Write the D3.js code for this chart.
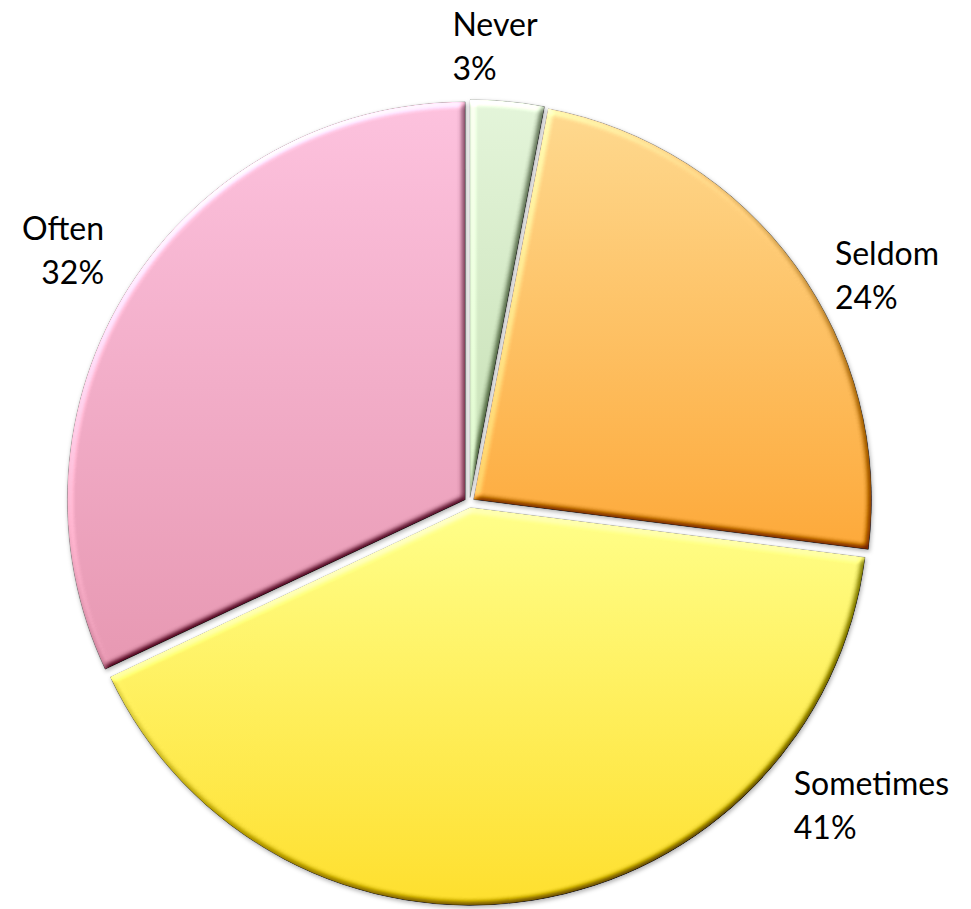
<!DOCTYPE html>
<html>
<head>
<meta charset="utf-8">
<script src="https://cdn.jsdelivr.net/npm/d3@7"></script>
<style>
  html, body { margin: 0; padding: 0; background: #fff; }
  svg { display: block; }
  text { font-family: Lato, "Open Sans", sans-serif; font-size: 32px; fill: #000; }
</style>
</head>
<body>
<svg id="chart" width="971" height="909"></svg>
<script>
const categories = ["Never", "Seldom", "Sometimes", "Often"];
const values = [3, 24, 41, 32];
const percentLabels = ["3%", "24%", "41%", "32%"];
const topColors = ["#e4f5da", "#fed98f", "#ffff8a", "#fdc2de"];
const bottomColors = ["#c6dfb4", "#fda93a", "#fedf2e", "#e798b2"];

const W = 971, H = 909;
const cx = 469.5, cy = 502.5, R = 398, explode = 5;
// label placement: angle (deg, clockwise from top), distance from centre, alignment
const labelLayout = [
  { a: 3.19, d: 458.2, align: "start" },
  { a: 61.4, d: 475.5, align: "start" },
  { a: 126.96, d: 503, align: "start" },
  { a: 301.85, d: 478.5, align: "end" }
];

const svg = d3.select("#chart");
const defs = svg.append("defs");

categories.forEach((c, i) => {
  const g = defs.append("linearGradient")
    .attr("id", "grad" + i).attr("x1", 0).attr("y1", 0).attr("x2", 0).attr("y2", 1);
  g.append("stop").attr("offset", "0%").attr("stop-color", topColors[i]);
  g.append("stop").attr("offset", "100%").attr("stop-color", bottomColors[i]);
});

const f = defs.append("filter").attr("id", "bevel")
  .attr("x", "-10%").attr("y", "-10%").attr("width", "120%").attr("height", "120%")
  .attr("color-interpolation-filters", "sRGB");
f.append("feGaussianBlur").attr("in", "SourceAlpha").attr("stdDeviation", 3).attr("result", "b");
const dl = f.append("feDiffuseLighting").attr("in", "b").attr("surfaceScale", 4)
  .attr("diffuseConstant", 1).attr("lighting-color", "#ffffff").attr("result", "light");
dl.append("feDistantLight").attr("azimuth", 235).attr("elevation", 45);
f.append("feComposite").attr("in", "SourceGraphic").attr("in2", "light")
  .attr("operator", "arithmetic").attr("k1", 0).attr("k2", 1).attr("k3", 0.85).attr("k4", -0.601)
  .attr("result", "lit");
f.append("feComposite").attr("in", "lit").attr("in2", "SourceAlpha").attr("operator", "in").attr("result", "clip");
f.append("feGaussianBlur").attr("in", "SourceAlpha").attr("stdDeviation", 2).attr("result", "sb");
f.append("feOffset").attr("in", "sb").attr("dx", 1).attr("dy", 2).attr("result", "so");
f.append("feFlood").attr("flood-color", "#000").attr("flood-opacity", 0.3).attr("result", "fc");
f.append("feComposite").attr("in", "fc").attr("in2", "so").attr("operator", "in").attr("result", "shadow");
const m = f.append("feMerge");
m.append("feMergeNode").attr("in", "shadow");
m.append("feMergeNode").attr("in", "clip");

const pie = d3.pie().sort(null).value(d => d).startAngle(0).endAngle(2 * Math.PI);
const arcs = pie(values);
const arc = d3.arc().innerRadius(0).outerRadius(R);

const g = svg.append("g").attr("transform", `translate(${cx},${cy})`);
g.selectAll("path.slice")
  .data(arcs)
  .enter().append("path")
  .attr("class", "slice")
  .attr("d", arc)
  .attr("transform", d => {
    const mid = (d.startAngle + d.endAngle) / 2;
    return `translate(${explode * Math.sin(mid)},${-explode * Math.cos(mid)})`;
  })
  .attr("fill", (d, i) => `url(#grad${i})`)
  .attr("stroke", "#7f7f7f")
  .attr("stroke-opacity", 0.5)
  .attr("stroke-width", 0.8)
  .attr("filter", "url(#bevel)");

const lineH = 44;
labelLayout.forEach((L, i) => {
  const a = L.a * Math.PI / 180;
  const px = cx + L.d * Math.sin(a), py = cy - L.d * Math.cos(a);
  const t = svg.append("text").attr("text-anchor", "start");
  t.append("tspan").attr("x", 0).attr("y", 0).text(categories[i]);
  t.append("tspan").attr("x", 0).attr("y", lineH).text(percentLabels[i]);
  const bb = t.node().getBBox();
  const w0 = t.selectAll("tspan").nodes().map(n => n.getComputedTextLength());
  const bw = Math.max(...w0);
  const left = px - bw / 2;
  const top = py - bb.height / 2 - bb.y;
  if (L.align === "end") {
    const right = left + bw;
    t.attr("text-anchor", "end");
    t.selectAll("tspan").attr("x", right).attr("y", (d, j) => top + j * lineH);
  } else {
    t.selectAll("tspan").attr("x", left).attr("y", (d, j) => top + j * lineH);
  }
});
</script>
</body>
</html>
